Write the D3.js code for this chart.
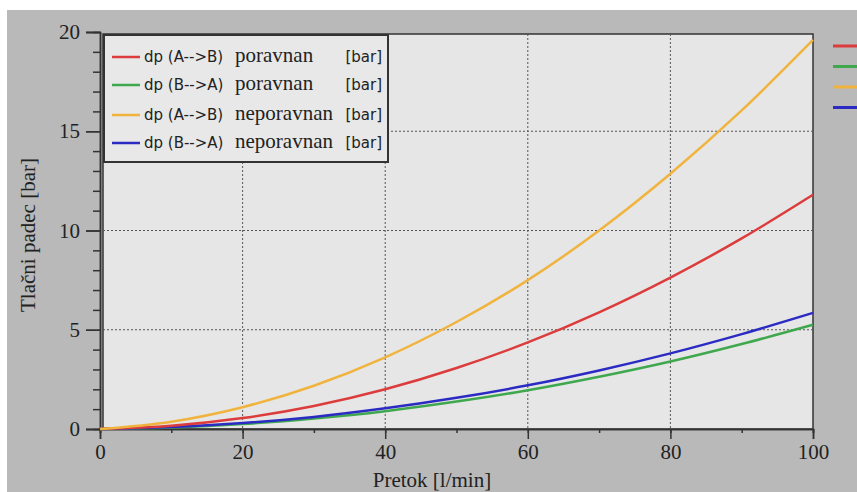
<!DOCTYPE html>
<html><head><meta charset="utf-8">
<script src="https://cdn.jsdelivr.net/npm/d3@7/dist/d3.min.js"></script>
<style>body{margin:0;background:#fff}svg{display:block}</style>
</head><body>
<svg id="c" width="857" height="492"></svg>
<script>
const flow = [0,10,20,30,40,50,60,70,80,90,100];
const dpABporavnan   = [0,0.16,0.55,1.16,2.0,3.07,4.36,5.88,7.63,9.6,11.8];
const dpBAporavnan   = [0,0.075,0.25,0.53,0.9,1.38,1.95,2.63,3.4,4.28,5.25];
const dpABneporavnan = [0,0.37,1.1,2.18,3.61,5.39,7.5,10.0,12.86,16.05,19.6];
const dpBAneporavnan = [0,0.095,0.3,0.61,1.04,1.57,2.2,2.95,3.81,4.78,5.85];
const seriesNames = ["dp (A-->B)","dp (B-->A)","dp (A-->B)","dp (B-->A)"];
const seriesKinds = ["poravnan","poravnan","neporavnan","neporavnan"];
const seriesUnit = "[bar]";
const seriesColors = ["#dc3c3c","#3fa84e","#f0b43e","#2b2bc4"];
const xTicks = [0,20,40,60,80,100];
const yTicks = [0,5,10,15,20];
const xLabel = "Pretok [l/min]";
const yLabel = "Tlačni padec [bar]";

const SERIF = "'Liberation Serif', 'Times New Roman', serif";
const SANS = "'DejaVu Sans', Verdana, sans-serif";
const series = [dpABporavnan, dpBAporavnan, dpABneporavnan, dpBAneporavnan];
const svg = d3.select("#c");
svg.append("rect").attr("x",7).attr("y",10).attr("width",850).attr("height",482).attr("fill","#b9b9b9");

const x = d3.scaleLinear().domain([0,100]).range([100,813]);
const y = d3.scaleLinear().domain([0,20]).range([429,32]);

svg.append("rect").attr("x",103).attr("y",34).attr("width",x(100)-103).attr("height",y(0)-34)
  .attr("fill","#e6e6e6").attr("stroke","#333").attr("stroke-width",1.5);

const g = svg.append("g").attr("stroke","#555").attr("stroke-dasharray","2,2").attr("stroke-width",1);
[20,40,60,80].forEach(v=>g.append("line").attr("x1",x(v)).attr("x2",x(v)).attr("y1",34).attr("y2",y(0)));
[5,10,15].forEach(v=>g.append("line").attr("x1",103).attr("x2",x(100)).attr("y1",y(v)).attr("y2",y(v)));

const yAx = svg.append("g").attr("transform","translate(100,0)")
  .call(d3.axisLeft(y).tickValues(d3.range(0,21,1)).tickSize(7).tickFormat(""));
yAx.selectAll(".tick line").filter(d=>d%5===0).attr("x2",-14);
yAx.append("g").call(d3.axisLeft(y).tickValues(yTicks).tickSize(14).tickPadding(6));
const xAx = svg.append("g").attr("transform",`translate(0,${y(0)})`)
  .call(d3.axisBottom(x).tickValues(d3.range(0,101,10)).tickSize(4).tickFormat(""));
xAx.append("g").call(d3.axisBottom(x).tickValues(xTicks).tickSize(10).tickPadding(5));
svg.selectAll(".domain").attr("stroke","#333").attr("stroke-width",1.5);
svg.selectAll(".tick line").attr("stroke","#333").attr("stroke-width",1.5);
svg.selectAll(".tick text").style("font-family",SERIF).style("font-size","21px").attr("fill","#222");

const line = d3.line().x((d,i)=>x(flow[i])).y(d=>y(d)).curve(d3.curveMonotoneX);
[1,3,0,2].forEach(k=>{
  svg.append("path").attr("d",line(series[k])).attr("fill","none")
    .attr("stroke",seriesColors[k]).attr("stroke-width",2.5);
});

svg.append("text").attr("x",432).attr("y",487).attr("text-anchor","middle")
  .style("font-family",SERIF).style("font-size","21px").attr("fill","#222").text(xLabel);
svg.append("text").attr("transform","translate(35,235) rotate(-90)").attr("text-anchor","middle")
  .style("font-family",SERIF).style("font-size","21px").attr("fill","#222").text(yLabel);

svg.append("rect").attr("x",104).attr("y",35).attr("width",284).attr("height",127)
  .attr("fill","#e8e8e8").attr("stroke","#333").attr("stroke-width",2);
const rowsY = [57,85,115,143];
series.forEach((s,k)=>{
  const ly = rowsY[k];
  svg.append("line").attr("x1",112).attr("x2",140).attr("y1",ly).attr("y2",ly)
    .attr("stroke",seriesColors[k]).attr("stroke-width",2.5);
  svg.append("text").attr("x",144).attr("y",ly+5).style("font-family",SANS).style("font-size","15px")
    .attr("fill","#222").text(seriesNames[k]);
  svg.append("text").attr("x",235).attr("y",ly+5).style("font-family",SERIF).style("font-size","21px")
    .attr("fill","#222").text(seriesKinds[k]);
  svg.append("text").attr("x",382).attr("y",ly+5).attr("text-anchor","end").style("font-family",SANS).style("font-size","15px")
    .attr("fill","#222").text(seriesUnit);
  svg.append("line").attr("x1",833).attr("x2",857).attr("y1",46+k*20.5).attr("y2",46+k*20.5)
    .attr("stroke",seriesColors[k]).attr("stroke-width",3);
});
</script>
</body></html>
